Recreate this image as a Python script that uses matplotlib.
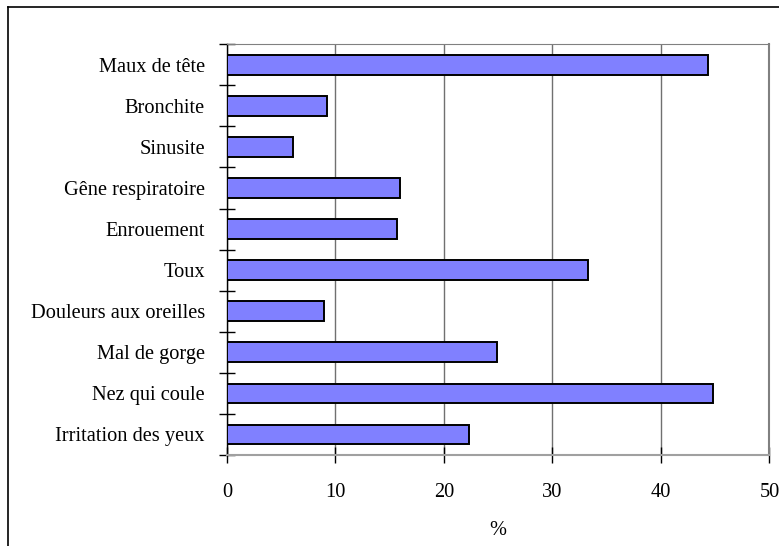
import numpy as np
import matplotlib
matplotlib.use('Agg')
import matplotlib.pyplot as plt
from matplotlib.lines import Line2D
from matplotlib.ticker import FixedLocator

# 数据
categories = ['Irritation des yeux', 'Nez qui coule', 'Mal de gorge',
              'Douleurs aux oreilles', 'Toux', 'Enrouement',
              'Gêne respiratoire', 'Sinusite', 'Bronchite', 'Maux de tête']
values = [22.3, 44.8, 24.9, 8.9, 33.3, 15.7, 15.9, 6.1, 9.2, 44.3]
x_ticks = [0, 10, 20, 30, 40, 50]

plt.rcParams['font.family'] = ['Liberation Serif', 'DejaVu Serif']
font_size = 14.7
bar_color = '#8080FF'
grid_gray = '#707070'

fig = plt.figure(figsize=(7.79, 5.46), dpi=100)
ax = fig.add_axes([0.2914, 0.1667, 0.6964, 0.7522])

y = np.arange(len(categories))
ax.barh(y, values, height=0.48, color=bar_color, edgecolor='black',
        linewidth=1.4, zorder=3)

ax.set_xlim(0, 50)
ax.set_ylim(-0.5, len(categories) - 0.5)

# 刻度
ax.xaxis.set_major_locator(FixedLocator(x_ticks))
ax.set_yticks(y)
ax.set_yticklabels(categories)
ax.yaxis.set_minor_locator(FixedLocator(np.arange(-0.5, len(categories), 1)))
ax.tick_params(axis='y', which='major', length=0, pad=16, labelsize=font_size)
ax.tick_params(axis='y', which='minor', direction='inout', length=12,
               width=1, color='black')
ax.tick_params(axis='x', direction='inout', length=12, width=1,
               color='black', pad=14, labelsize=font_size)

# 网格
ax.grid(axis='x', color=grid_gray, linewidth=1, zorder=0)
ax.set_axisbelow(True)

# 边框
ax.spines['left'].set_color('black')
ax.spines['left'].set_linewidth(1)
ax.spines['bottom'].set_color('#A0A0A0')
ax.spines['bottom'].set_linewidth(1.5)
ax.spines['top'].set_color('#808080')
ax.spines['right'].set_color('#808080')
ax.spines['right'].set_linewidth(1.5)

ax.set_xlabel('%', fontsize=font_size)
ax.xaxis.set_label_coords(0.5, -0.16)

# 外框 (左、上)
fig.add_artist(Line2D([8 / 779, 8 / 779], [0, 1 - 7 / 546], color='black',
                      linewidth=1.2, transform=fig.transFigure))
fig.add_artist(Line2D([8 / 779, 1], [1 - 7 / 546, 1 - 7 / 546], color='black',
                      linewidth=1.2, transform=fig.transFigure))

fig.savefig('out.png', dpi=100)
